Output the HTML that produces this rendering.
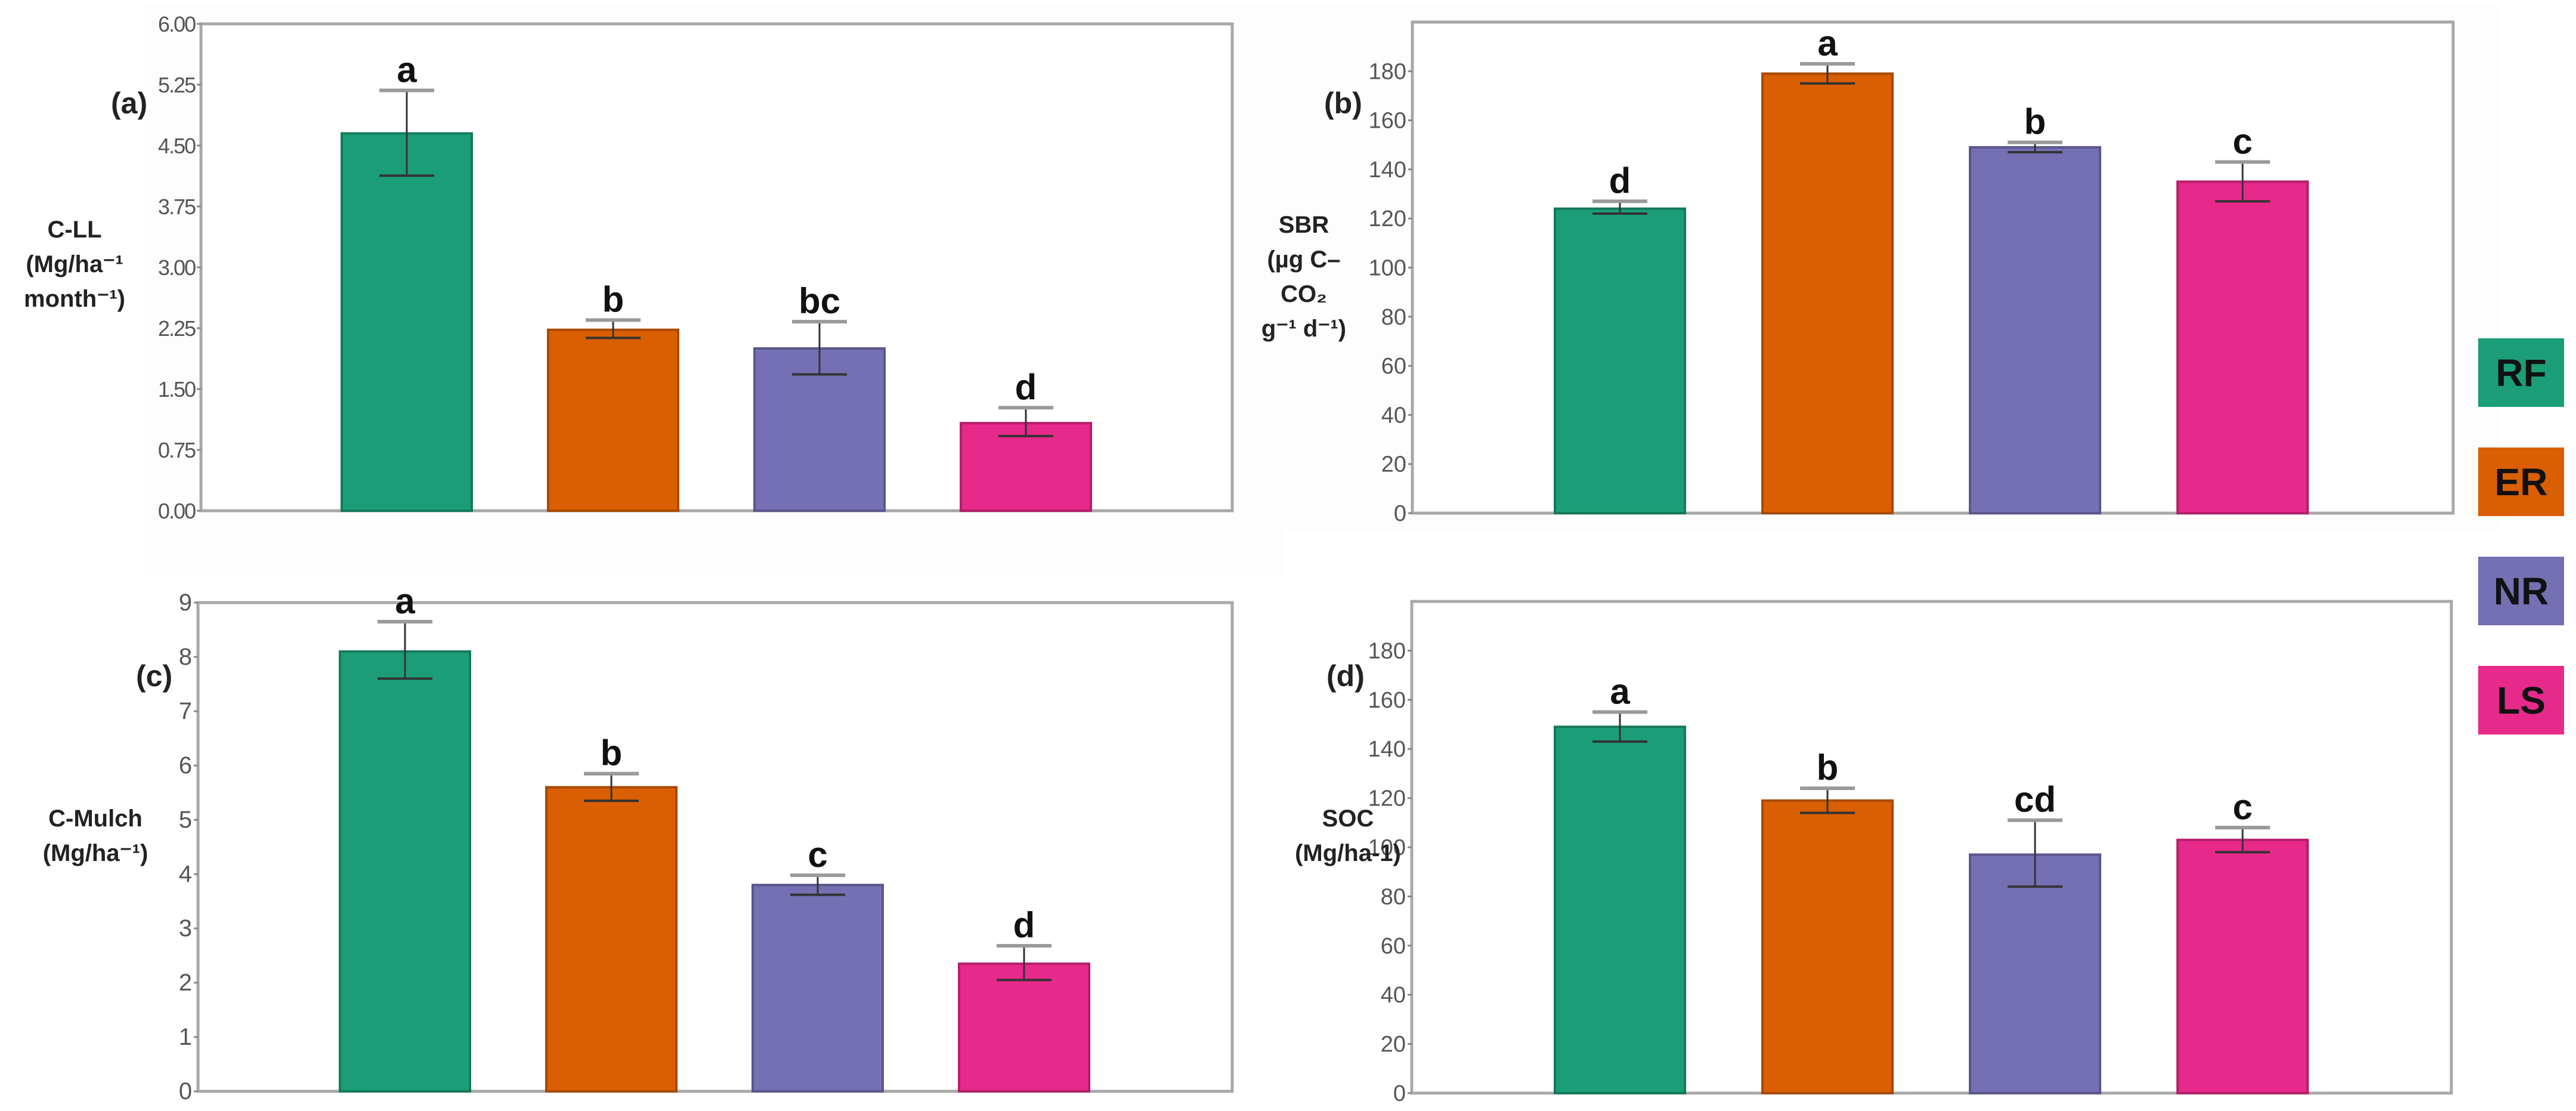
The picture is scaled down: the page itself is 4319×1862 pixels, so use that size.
<!DOCTYPE html>
<html><head><meta charset="utf-8"><style>
html,body{margin:0;padding:0;background:#fff;}
svg{display:block;font-family:"Liberation Sans",sans-serif;}
</style></head><body>
<svg id="fig" width="4319" height="1862" viewBox="0 0 4319 1862" xmlns="http://www.w3.org/2000/svg">
<rect x="0" y="0" width="4319" height="1862" fill="#fff"/>
<rect x="243" y="8" width="1910" height="955" fill="#fdfdfd"/>
<rect x="2080" y="8" width="2110" height="880" fill="#fdfdfd"/>
<g id="legend"></g>
</svg>
<script>
const categories = ["RF","ER","NR","LS"];
const colors = ["#1b9e77","#d95f02","#7570b3","#e7298a"];
const strokes = ["#157a5c","#a84a02","#5b578c","#b41f6b"];

const aValues = [4.65, 2.23, 2.00, 1.08];
const aLow = [4.13, 2.13, 1.68, 0.92];
const aHigh = [5.18, 2.35, 2.33, 1.27];
const aLetters = ["a","b","bc","d"];
const aTicks = ["0.00","0.75","1.50","2.25","3.00","3.75","4.50","5.25","6.00"];

const bValues = [124, 179, 149, 135];
const bLow = [122, 175, 147, 127];
const bHigh = [127, 183, 151, 143];
const bLetters = ["d","a","b","c"];
const bTicks = ["0","20","40","60","80","100","120","140","160","180"];

const cValues = [8.1, 5.6, 3.8, 2.35];
const cLow = [7.6, 5.35, 3.62, 2.05];
const cHigh = [8.65, 5.85, 3.98, 2.68];
const cLetters = ["a","b","c","d"];
const cTicks = ["0","1","2","3","4","5","6","7","8","9"];

const dValues = [149, 119, 97, 103];
const dLow = [143, 114, 84, 98];
const dHigh = [155, 124, 111, 108];
const dLetters = ["a","b","cd","c"];
const dTicks = ["0","20","40","60","80","100","120","140","160","180"];

const NS = "http://www.w3.org/2000/svg";
const svg = document.getElementById("fig");
function mk(tag, attrs, parent, text){
  const e = document.createElementNS(NS, tag);
  for (const k in attrs) e.setAttribute(k, attrs[k]);
  if (text !== undefined) e.textContent = text;
  (parent||svg).appendChild(e);
  return e;
}

function panel(cfg){
  const g = mk("g", {});
  
  
  const y = v => cfg.bottom - (v - 0) / (cfg.max) * (cfg.bottom - cfg.top);
  const x = i => cfg.x0 + i * cfg.step;
  const fr = mk("rect", {x:cfg.left, y:cfg.top, width:cfg.right-cfg.left, height:cfg.bottom-cfg.top, fill:"#fff", stroke:"#a8a8a8", "stroke-width":5}, g);
  
  
  cfg.ticks.forEach(t => {
    const v = parseFloat(t);
    const ty = y(v);
    const tk = mk("line", {x1:cfg.left-7, x2:cfg.left, y1:ty, y2:ty, stroke:"#888", "stroke-width":3}, g);
    
    
    const tl = mk("text", {x:cfg.left-10, y:ty+13, "text-anchor":"end", "font-size":cfg.tickSize, fill:"#555", "letter-spacing":cfg.tickLs||0}, g, t);
    
    
  });
  cfg.values.forEach((v,i) => {
    const cx = x(i), w = 218;
    const r = mk("rect", {x:cx-w/2, y:y(v), width:w, height:cfg.bottom-y(v), fill:colors[i], stroke:strokes[i], "stroke-width":4}, g);
    
    
    const yh = y(cfg.high[i]), yl = y(cfg.low[i]);
    const el = mk("line", {x1:cx, x2:cx, y1:yh, y2:yl, stroke:"#333", "stroke-width":3}, g);
    
    
    const c1 = mk("line", {x1:cx-46, x2:cx+46, y1:yh, y2:yh, stroke:"#9a9a9a", "stroke-width":6}, g);
    
    
    const c2 = mk("line", {x1:cx-46, x2:cx+46, y1:yl, y2:yl, stroke:"#333", "stroke-width":4}, g);
    
    
    const lt = mk("text", {x:cx, y:yh-14, "text-anchor":"middle", "font-size":60, "font-weight":"bold", fill:"#111"}, g, cfg.letters[i]);
    
    
  });
  const pl = mk("text", {x:cfg.labX, y:cfg.labY, "font-size":50, "font-weight":"bold", fill:"#222"}, g, cfg.tag);
  
  
  const tt = mk("text", {x:cfg.titleX, y:cfg.titleY, "text-anchor":"middle", "font-size":40, "font-weight":"bold", fill:"#222"}, g);
  
  
  cfg.title.forEach((line, k) => {
    mk("tspan", {x:cfg.titleX, dy: k===0 ? 0 : 58}, tt, line);
  });
}

panel({name:"panel-a", tag:"(a)", left:337, right:2066, top:40, bottom:856, max:6, x0:682, step:346,
  values:aValues, low:aLow, high:aHigh, letters:aLetters, ticks:aTicks, tickSize:36, tickLs:-2,
  labX:186, labY:190, titleX:125, titleY:398, title:["C-LL","(Mg/ha⁻¹","month⁻¹)"]});
panel({name:"panel-b", tag:"(b)", left:2368, right:4113, top:37, bottom:860, max:200, x0:2716, step:348,
  values:bValues, low:bLow, high:bHigh, letters:bLetters, ticks:bTicks, tickSize:38,
  labX:2220, labY:190, titleX:2186, titleY:390, title:["SBR","(µg C–","CO₂","g⁻¹ d⁻¹)"]});
panel({name:"panel-c", tag:"(c)", left:332, right:2066, top:1010, bottom:1829, max:9, x0:679, step:346,
  values:cValues, low:cLow, high:cHigh, letters:cLetters, ticks:cTicks, tickSize:40,
  labX:228, labY:1150, titleX:160, titleY:1385, title:["C-Mulch","(Mg/ha⁻¹)"]});
panel({name:"panel-d", tag:"(d)", left:2367, right:4110, top:1008, bottom:1832, max:200, x0:2716, step:348,
  values:dValues, low:dLow, high:dHigh, letters:dLetters, ticks:dTicks, tickSize:38,
  labX:2224, labY:1150, titleX:2260, titleY:1385, title:["SOC","(Mg/ha‑1)"]});

const legTop = [567, 750, 933, 1116];
const lg = document.getElementById("legend");
svg.appendChild(lg);
categories.forEach((c,i) => {
  const r = mk("rect", {x:4155, y:legTop[i], width:144, height:115, fill:colors[i]}, lg);
  
  
  const t = mk("text", {x:4227, y:legTop[i]+80, "text-anchor":"middle", "font-size":64, "font-weight":"bold", fill:"#111"}, lg, c);
  
  
});
</script>
</body></html>
